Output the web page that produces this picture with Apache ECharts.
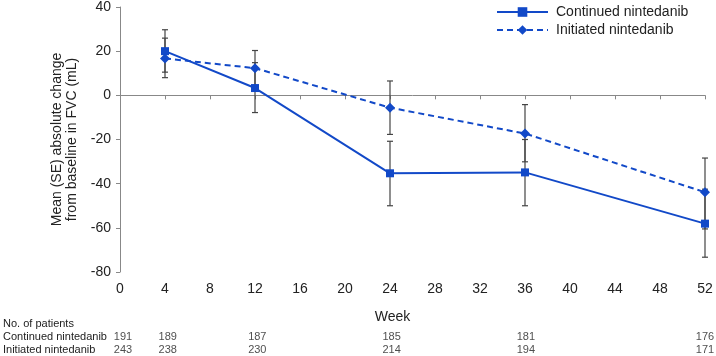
<!DOCTYPE html>
<html>
<head>
<meta charset="utf-8">
<script src="https://cdn.jsdelivr.net/npm/echarts@6/dist/echarts.min.js"></script>
<style>
  html, body { margin: 0; padding: 0; background: #fff; }
  #main { width: 716px; height: 356px; }
</style>
</head>
<body>
<div id="main"></div>
<script>
// weeks with measurements
var weeks = [4, 12, 24, 36, 52];
// continued nintedanib: mean and SE bounds (mL)
var continuedMean = [20, 3.3, -35.3, -34.9, -58.1];
var continuedLow = [10.5, -7.8, -50, -50, -73.3];
var continuedHigh = [29.7, 14.8, -20.8, -20, -42.5];
// initiated nintedanib
var initiatedMean = [16.7, 12.3, -5.6, -17.3, -43.9];
var initiatedLow = [8, 4.3, -17.7, -30.1, -60.5];
var initiatedHigh = [25.9, 20.3, 6.5, -4.2, -28.4];
// number at risk table
var tableWeeks = [0, 4, 12, 24, 36, 52];
var continuedN = [191, 189, 187, 185, 181, 176];
var initiatedN = [243, 238, 230, 214, 194, 171];
var tableRows = ["No. of patients", "Continued nintedanib", "Initiated nintedanib"];

var blue = "#1249c8";
var font = "Liberation Sans, Arial, sans-serif";

function pairs(xs, ys) {
  return xs.map(function (x, i) { return [x, ys[i]]; });
}
function bars(xs, lo, hi) {
  return xs.map(function (x, i) { return [x, lo[i], hi[i]]; });
}

// vertical SE bar with small caps
function errorBar(params, api) {
  var top = api.coord([api.value(0), api.value(2)]);
  var bot = api.coord([api.value(0), api.value(1)]);
  var w = 3;
  var style = { stroke: "#444", lineWidth: 1.2 };
  return {
    type: "group",
    children: [
      { type: "line", shape: { x1: top[0], y1: top[1], x2: bot[0], y2: bot[1] }, style: style },
      { type: "line", shape: { x1: top[0] - w, y1: top[1], x2: top[0] + w, y2: top[1] }, style: style },
      { type: "line", shape: { x1: bot[0] - w, y1: bot[1], x2: bot[0] + w, y2: bot[1] }, style: style }
    ]
  };
}

var tableData = [];
tableWeeks.forEach(function (w, i) {
  tableData.push([w, tableRows[1], continuedN[i]]);
  tableData.push([w, tableRows[2], initiatedN[i]]);
});

var chart = echarts.init(document.getElementById("main"));
chart.setOption({
  animation: false,
  textStyle: { fontFamily: font },
  grid: [
    { left: 120, right: 11, top: 6.5, height: 265.5 },
    { left: 120, right: 11, top: 317.5, height: 43.5 }
  ],
  legend: {
    orient: "vertical",
    left: 491,
    top: 0,
    itemWidth: 51,
    itemHeight: 12,
    itemGap: 4,
    textStyle: { fontSize: 14, color: "#222", fontFamily: font, padding: [0, 0, 0, 3] },
    data: ["Continued nintedanib", "Initiated nintedanib"]
  },
  xAxis: [
    {
      gridIndex: 0,
      type: "value",
      min: 0,
      max: 52,
      interval: 4,
      name: "Week",
      nameLocation: "middle",
      nameGap: 38,
      nameTextStyle: { fontSize: 14, color: "#222", padding: [0, 40, 0, 0] },
      splitLine: { show: false },
      axisLine: { lineStyle: { color: "#888" } },
      axisTick: { length: 4, lineStyle: { color: "#888" } },
      axisLabel: { fontSize: 14, color: "#222", margin: 10 }
    },
    {
      gridIndex: 1,
      type: "value",
      min: 0,
      max: 52,
      show: false
    }
  ],
  yAxis: [
    {
      gridIndex: 0,
      type: "value",
      min: -80,
      max: 40,
      interval: 20,
      name: "Mean (SE) absolute change\nfrom baseline in FVC (mL)",
      nameLocation: "middle",
      nameGap: 40,
      nameTextStyle: { fontSize: 14, color: "#222", lineHeight: 15 },
      splitLine: { show: false },
      axisLine: { show: true, lineStyle: { color: "#888" } },
      axisTick: { show: true, length: 4, lineStyle: { color: "#888" } },
      axisLabel: { fontSize: 14, color: "#222", margin: 9 }
    },
    {
      gridIndex: 1,
      type: "category",
      inverse: true,
      data: tableRows,
      axisLine: { show: false },
      axisTick: { show: false },
      axisLabel: { interval: 0, align: "left", margin: 120, fontSize: 11, color: "#222" }
    }
  ],
  series: [
    {
      name: "Continued nintedanib",
      type: "line",
      xAxisIndex: 0,
      yAxisIndex: 0,
      data: pairs(weeks, continuedMean),
      symbol: "rect",
      symbolSize: 8,
      itemStyle: { color: blue },
      lineStyle: { color: blue, width: 2 },
      z: 3
    },
    {
      name: "Initiated nintedanib",
      type: "line",
      xAxisIndex: 0,
      yAxisIndex: 0,
      data: pairs(weeks, initiatedMean),
      symbol: "diamond",
      symbolSize: 10,
      itemStyle: { color: blue },
      lineStyle: { color: blue, width: 2, type: [6, 4] },
      z: 3
    },
    {
      type: "custom",
      xAxisIndex: 0,
      yAxisIndex: 0,
      renderItem: errorBar,
      data: bars(weeks, continuedLow, continuedHigh),
      z: 2
    },
    {
      type: "custom",
      xAxisIndex: 0,
      yAxisIndex: 0,
      renderItem: errorBar,
      data: bars(weeks, initiatedLow, initiatedHigh),
      z: 2
    },
    {
      type: "scatter",
      xAxisIndex: 1,
      yAxisIndex: 1,
      symbolSize: 0,
      data: tableData,
      label: {
        show: true,
        position: "inside",
        fontSize: 11,
        color: "#222",
        formatter: function (p) { return p.value[2]; }
      }
    }
  ]
});
</script>
</body>
</html>
